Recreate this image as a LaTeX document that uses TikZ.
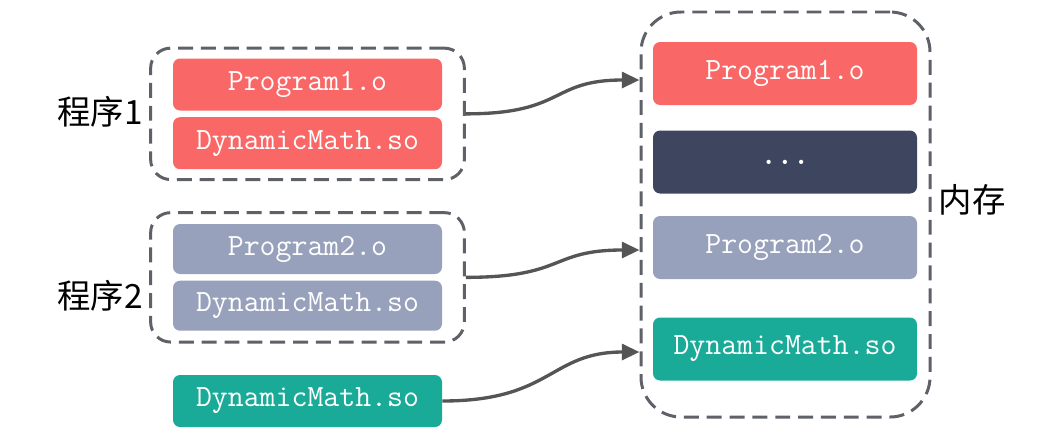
\documentclass[tikz,border=0pt]{standalone}
\usepackage{fontspec}
\newfontfamily\cjk{Noto Sans CJK SC}
\usetikzlibrary{positioning, fit, arrows.meta}
\definecolor{objred}{HTML}{FA6767}
\definecolor{objgray}{HTML}{98A1BB}
\definecolor{objdark}{HTML}{3D465E}
\definecolor{objteal}{HTML}{1AAA98}
\definecolor{framegray}{HTML}{5E6168}
\definecolor{arrowgray}{HTML}{555555}
\begin{document}
\begin{tikzpicture}
% Define object file styles
\tikzstyle{obj} = [rectangle, rounded corners=4pt, text=white, font=\ttfamily\fontsize{17.6}{17.6}\selectfont, text centered, minimum width=5.38cm, minimum height=1.04cm, inner sep=0pt]
\tikzstyle{mem} = [obj, minimum width=5.28cm, minimum height=1.26cm]
\tikzstyle{group} = [draw=framegray, line width=1.7pt, dash pattern=on 8.5pt off 4.5pt, rounded corners=0.4cm]
\tikzstyle{label} = [font=\cjk\fontsize{19}{19}\selectfont]
\tikzstyle{arrow} = [-{Triangle[length=10pt,width=9pt]}, line width=1.9pt, draw=arrowgray]
\useasboundingbox (0,0) rectangle (20.98,-8.68);
% Define program 1 (left)
\node[obj, fill=objred] (Program1) at (6.15,-1.69) {Program1.o};
\node[obj, fill=objred, below=0.12cm of Program1] (DynMathOne) {DynamicMath.so};
\node[group, fit=(Program1) (DynMathOne), inner xsep=0.44cm, inner ysep=0.2cm] (ProgramOneBox) {};
\node[label] (ProgramOneLabel) at (2.0,-2.24) {程序1};
% Define program 2 (left)
\node[obj, fill=objgray, minimum height=1.0cm] (Program2) at (6.15,-4.98) {Program2.o};
\node[obj, fill=objgray, minimum height=1.0cm, below=0.12cm of Program2] (DynMathTwo) {DynamicMath.so};
\node[group, fit=(Program2) (DynMathTwo), inner xsep=0.44cm, inner ysep=0.22cm] (ProgramTwoBox) {};
\node[label] (ProgramTwoLabel) at (2.0,-5.92) {程序2};
% Define shared library (left)
\node[obj, fill=objteal] (DynMathLib) at (6.15,-8.02) {DynamicMath.so};
% Define memory (right)
\node[mem, fill=objred] (MemProgram1) at (15.7,-1.47) {Program1.o};
\node[mem, fill=objdark] (MemDots) at (15.7,-3.24) {\textbf{...}};
\node[mem, fill=objgray] (MemProgram2) at (15.7,-4.95) {Program2.o};
\node[mem, fill=objteal] (MemDynMath) at (15.7,-6.98) {DynamicMath.so};
\node[group, rounded corners=0.8cm, minimum width=5.78cm, minimum height=8.1cm] (MemoryBox) at (15.71,-4.29) {};
\node[label] (MemoryLabel) at (19.44,-4.0) {内存};
% Relationships (arrows)
\draw[arrow] (ProgramOneBox.east) .. controls +(2.0,0) and +(-1.8,0) .. ([yshift=-0.13cm]MemoryBox.west |- MemProgram1.west);
\draw[arrow] (ProgramTwoBox.east) .. controls +(2.0,0) and +(-1.8,0) .. ([yshift=-0.05cm]MemoryBox.west |- MemProgram2.west);
\draw[arrow] (DynMathLib.east) .. controls +(2.2,0) and +(-1.8,0) .. ([yshift=-0.06cm]MemoryBox.west |- MemDynMath.west);
\end{tikzpicture}
\end{document}
